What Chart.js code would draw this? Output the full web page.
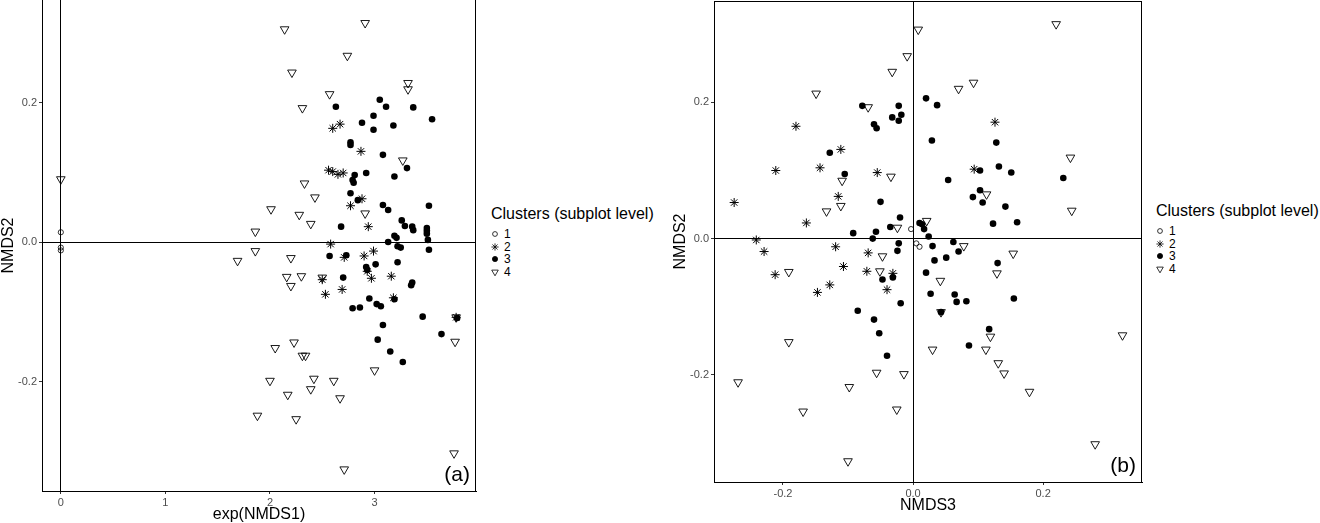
<!DOCTYPE html>
<html>
<head>
<meta charset="utf-8">
<title>NMDS clusters</title>
<script src="https://cdn.jsdelivr.net/npm/chart.js@4.4.1/dist/chart.umd.min.js"></script>
<style>
    body { margin: 0; background: #fff; width: 1320px; height: 523px; position: relative; overflow: hidden;
           font-family: "Liberation Sans", Arial, sans-serif; }
    canvas.panel { position: absolute; top: 0; }
    .legend { position: absolute; color: #000; }
    .legend .title { font-size: 16px; line-height: 18px; white-space: nowrap; }
    .legend .item { position: absolute; left: 0; height: 12px; font-size: 12px; line-height: 12px; white-space: nowrap; }
    .legend .item canvas { position: absolute; left: -2px; top: 0; }
    .legend .item span { position: absolute; left: 13px; top: 0; }
</style>
</head>
<body>
<canvas id="panelA" class="panel" width="480" height="523" style="left:0px"></canvas>
<canvas id="panelB" class="panel" width="486" height="523" style="left:660px"></canvas>
<div id="legendA" class="legend" style="left:491px; top:205px"></div>
<div id="legendB" class="legend" style="left:1156px; top:202px"></div>

<script>
// 범례 / 축 텍스트
const clusterLabels = ['1', '2', '3', '4'];
const legendTitle = 'Clusters (subplot level)';

// (a) exp(NMDS1) vs NMDS2 : [x, y]
const aCluster1 = [[0, 0.014], [0, -0.008], [0, -0.012]];
const aCluster2 = [
    [2.60, 0.163], [2.67, 0.169], [2.87, 0.130], [2.56, 0.103], [2.60, 0.101], [2.65, 0.097], [2.70, 0.099],
    [2.88, 0.062], [2.77, 0.052], [2.94, 0.022], [2.58, -0.003], [2.99, -0.013], [2.71, -0.022], [2.90, -0.020],
    [2.93, -0.042], [2.97, -0.052], [3.16, -0.049], [2.50, -0.054], [2.53, -0.075], [2.69, -0.068], [3.18, -0.080],
    [3.78, -0.108],
];
const aCluster3 = [
    [3.05, 0.204], [2.63, 0.194], [3.11, 0.194], [3.37, 0.193], [3.55, 0.176], [2.99, 0.181], [2.88, 0.171],
    [3.18, 0.167], [2.99, 0.161], [2.77, 0.143], [2.77, 0.139], [3.08, 0.125], [3.31, 0.106], [3.19, 0.094],
    [2.92, 0.099], [2.81, 0.096], [2.79, 0.089], [2.80, 0.085], [2.77, 0.070], [2.84, 0.060], [3.08, 0.053],
    [3.13, 0.046], [3.52, 0.052], [2.68, 0.022], [3.26, 0.031], [3.29, 0.023], [3.36, 0.022], [3.37, 0.017],
    [3.50, 0.020], [3.50, 0.016], [3.50, 0.012], [3.19, 0.009], [3.21, 0.006], [3.51, 0.003], [3.13, 0.000],
    [3.22, -0.006], [3.25, -0.008], [3.52, -0.011], [2.57, -0.020], [2.73, -0.019], [3.01, -0.032], [3.22, -0.029],
    [2.92, -0.036], [2.93, -0.040], [2.70, -0.051], [3.36, -0.058], [3.35, -0.062], [2.95, -0.081], [3.02, -0.089],
    [3.06, -0.092], [3.19, -0.082], [2.79, -0.095], [2.86, -0.094], [3.46, -0.107], [3.79, -0.109], [3.64, -0.132],
    [3.08, -0.119], [3.03, -0.140], [3.15, -0.157], [3.27, -0.172],
];
const aCluster4 = [
    [0, 0.090], [2.14, 0.305], [2.91, 0.314], [2.74, 0.267], [2.21, 0.243], [3.32, 0.228], [3.32, 0.219],
    [2.57, 0.212], [2.31, 0.192], [3.27, 0.117], [2.33, 0.084], [2.43, 0.064], [2.01, 0.047], [2.28, 0.039],
    [2.91, 0.041], [2.39, 0.026], [1.86, 0.015], [1.86, -0.013], [1.69, -0.027], [2.20, -0.023], [2.16, -0.050],
    [2.30, -0.049], [2.20, -0.063], [2.50, -0.051], [3.77, -0.143], [3.00, -0.184], [2.05, -0.152], [2.23, -0.144],
    [2.31, -0.163], [2.34, -0.163], [2.00, -0.199], [2.42, -0.196], [2.61, -0.199], [2.39, -0.211], [2.17, -0.219],
    [2.67, -0.224], [1.88, -0.249], [2.25, -0.254], [3.76, -0.303], [2.71, -0.326], [3.78, -0.108],
];
const aXTicks = [0, 1, 2, 3];
const aYTicks = [-0.2, 0, 0.2];

// (b) NMDS3 vs NMDS2 : [x, y]
const bCluster1 = [[-0.003, 0.014], [0.005, -0.007], [0.010, -0.012]];
const bCluster2 = [
    [-0.180, 0.165], [-0.111, 0.131], [-0.211, 0.100], [-0.143, 0.104], [-0.055, 0.097], [-0.115, 0.062],
    [-0.275, 0.053], [-0.164, 0.023], [-0.241, -0.002], [0.126, 0.171], [0.094, 0.102], [-0.229, -0.019],
    [-0.119, -0.012], [-0.069, -0.021], [-0.107, -0.041], [-0.212, -0.053], [-0.071, -0.048], [-0.031, -0.051],
    [-0.128, -0.068], [-0.147, -0.079], [-0.040, -0.075],
];
const bCluster3 = [
    [0.020, 0.206], [0.037, 0.196], [-0.078, 0.195], [-0.022, 0.195], [-0.018, 0.182], [-0.032, 0.178],
    [-0.022, 0.173], [-0.060, 0.168], [-0.056, 0.162], [0.029, 0.144], [0.128, 0.141], [-0.128, 0.126],
    [0.132, 0.106], [0.103, 0.100], [0.151, 0.097], [0.231, 0.089], [-0.105, 0.095], [0.054, 0.086],
    [0.103, 0.071], [0.092, 0.061], [0.107, 0.053], [0.142, 0.047], [-0.050, 0.054], [-0.020, 0.031],
    [0.123, 0.022], [0.160, 0.024], [0.010, 0.023], [0.014, 0.021], [0.017, 0.014], [-0.092, 0.008],
    [-0.057, 0.010], [-0.035, 0.017], [-0.062, 0.000], [0.024, 0.003], [-0.022, -0.007], [0.062, -0.005],
    [-0.024, -0.018], [0.030, -0.011], [0.070, -0.019], [0.051, -0.028], [0.033, -0.032], [0.130, -0.036],
    [0.020, -0.050], [-0.047, -0.060], [-0.031, -0.057], [0.027, -0.081], [0.064, -0.082], [0.067, -0.093],
    [0.082, -0.092], [0.155, -0.088], [-0.019, -0.095], [-0.085, -0.106], [0.043, -0.108], [-0.060, -0.119],
    [-0.052, -0.139], [0.117, -0.133], [0.086, -0.157], [-0.040, -0.172],
];
const bCluster4 = [
    [0.008, 0.307], [-0.009, 0.268], [-0.032, 0.245], [-0.149, 0.213], [-0.069, 0.193], [0.070, 0.220],
    [0.093, 0.229], [0.220, 0.315], [0.242, 0.119], [-0.034, 0.091], [-0.109, 0.085], [0.113, 0.065],
    [-0.111, 0.048], [0.244, 0.041], [-0.133, 0.040], [0.021, 0.026], [-0.024, 0.016], [0.078, -0.011],
    [0.154, -0.022], [-0.047, -0.026], [-0.191, -0.049], [-0.051, -0.048], [0.129, -0.051], [0.042, -0.062],
    [-0.191, -0.152], [0.119, -0.144], [0.322, -0.142], [0.030, -0.163], [0.112, -0.163], [0.131, -0.183],
    [0.140, -0.198], [-0.056, -0.197], [-0.014, -0.199], [-0.269, -0.211], [-0.098, -0.218], [0.179, -0.225],
    [-0.025, -0.251], [-0.169, -0.254], [0.280, -0.302], [-0.100, -0.327], [0.043, -0.108],
];
const bXTicks = [-0.2, 0, 0.2];
const bYTicks = [-0.2, 0, 0.2];

// 클러스터별 마커 모양
const markerStyles = [
    { pointStyle: 'circle', radius: 2.6, fill: 'rgba(0,0,0,0)', border: 0.8, rotation: 0 },
    { pointStyle: 'star', radius: 4.5, fill: 'rgba(0,0,0,0)', border: 1, rotation: 0 },
    { pointStyle: 'circle', radius: 3.3, fill: '#000', border: 0, rotation: 0 },
    { pointStyle: 'triangle', radius: 5, fill: 'rgba(0,0,0,0)', border: 0.9, rotation: 180 },
];

Chart.defaults.font.family = '"Liberation Sans", Arial, sans-serif';

// 오른쪽/위쪽 테두리와 패널 라벨
const framePlugin = {
    id: 'frame',
    afterDatasetsDraw(chart, args, opts) {
        const { ctx, chartArea: a } = chart;
        const r = Math.round(a.right) - 0.5;
        ctx.save();
        ctx.strokeStyle = '#000';
        ctx.lineWidth = 1;
        ctx.beginPath();
        ctx.moveTo(r, a.bottom);
        ctx.lineTo(r, a.top);
        if (opts.top) {
            ctx.moveTo(a.left, a.top + 0.5);
            ctx.lineTo(r, a.top + 0.5);
        }
        ctx.stroke();
        ctx.font = '21px "Liberation Sans", Arial, sans-serif';
        ctx.fillStyle = '#000';
        ctx.textAlign = 'right';
        ctx.textBaseline = 'alphabetic';
        ctx.fillText(opts.tag, a.right - 6, a.bottom - 10);
        ctx.restore();
    },
};

function toPoints(pairs) {
    return pairs.map(([x, y]) => ({ x, y }));
}

function axis(cfg) {
    return {
        type: 'linear',
        min: cfg.min,
        max: cfg.max,
        afterBuildTicks: (scale) => { scale.ticks = cfg.ticks.map((v) => ({ value: v })); },
        afterFit: (scale) => {
            if (cfg.width !== undefined) scale.width = cfg.width;
            if (cfg.height !== undefined) scale.height = cfg.height;
            // 끝 라벨 때문에 생기는 여백 제거
            scale.paddingTop = 0;
            scale.paddingBottom = 0;
            scale.paddingLeft = 0;
            scale.paddingRight = 0;
        },
        ticks: {
            color: '#4d4d4d',
            font: { size: 11 },
            padding: 2,
            callback: cfg.format,
        },
        grid: {
            color: (c) => (c.tick && c.tick.value === 0 ? '#000' : 'rgba(0,0,0,0)'),
            lineWidth: 1,
            tickLength: 3,
            tickColor: '#333',
        },
        border: { display: true, color: '#000', width: 1 },
        title: {
            display: true,
            text: cfg.title,
            color: '#000',
            font: { size: 16 },
            padding: cfg.titlePadding,
        },
    };
}

function makePanel(canvasId, clusters, cfg) {
    const datasets = clusters.map((pairs, i) => {
        const m = markerStyles[i];
        return {
            label: clusterLabels[i],
            data: toPoints(pairs),
            pointStyle: m.pointStyle,
            pointRadius: m.radius,
            pointBackgroundColor: m.fill,
            pointBorderColor: '#000',
            pointBorderWidth: m.border,
            pointRotation: m.rotation,
            showLine: false,
        };
    });

    return new Chart(document.getElementById(canvasId), {
        type: 'scatter',
        data: { datasets },
        options: {
            responsive: false,
            animation: false,
            devicePixelRatio: 1,
            events: [],
            layout: { autoPadding: false, padding: cfg.padding },
            plugins: {
                legend: { display: false },
                tooltip: { enabled: false },
                frame: { top: cfg.frameTop, tag: cfg.tag },
            },
            scales: { x: axis(cfg.x), y: axis(cfg.y) },
        },
        plugins: [framePlugin],
    });
}

const fmt1 = (v) => Number(v).toFixed(1);
const fmt0 = (v) => String(Math.round(v));

makePanel('panelA', [aCluster1, aCluster2, aCluster3, aCluster4], {
    padding: { left: 0, right: 4, top: 0, bottom: 0 },
    frameTop: false,
    tag: '(a)',
    x: { min: -0.18, max: 3.97, ticks: aXTicks, format: fmt0, title: 'exp(NMDS1)', height: 32, titlePadding: { top: 0, bottom: -1 } },
    y: { min: -0.357, max: 0.347, ticks: aYTicks, format: fmt1, title: 'NMDS2', width: 42, titlePadding: { top: -1, bottom: 0 } },
});

makePanel('panelB', [bCluster1, bCluster2, bCluster3, bCluster4], {
    padding: { left: 0, right: 4, top: 1, bottom: 0 },
    frameTop: true,
    tag: '(b)',
    x: { min: -0.306, max: 0.352, ticks: bXTicks, format: fmt1, title: 'NMDS3', height: 41, titlePadding: { top: 0, bottom: 8 } },
    y: { min: -0.3575, max: 0.349, ticks: bYTicks, format: fmt1, title: 'NMDS2', width: 54, titlePadding: { top: 11, bottom: 0 } },
});

// 범례 (HTML 텍스트 + 작은 캔버스 기호)
const legendMarkers = [
    { pointStyle: 'circle', radius: 2.4, fill: 'rgba(0,0,0,0)', rotation: 0 },
    { pointStyle: 'star', radius: 3.6, fill: 'rgba(0,0,0,0)', rotation: 0 },
    { pointStyle: 'circle', radius: 2.6, fill: '#000', rotation: 0 },
    { pointStyle: 'triangle', radius: 3.8, fill: 'rgba(0,0,0,0)', rotation: 180 },
];

function buildLegend(containerId) {
    const box = document.getElementById(containerId);
    const title = document.createElement('div');
    title.className = 'title';
    title.textContent = legendTitle;
    box.appendChild(title);

    clusterLabels.forEach((label, i) => {
        const item = document.createElement('div');
        item.className = 'item';
        item.style.top = (23 + i * 12.5) + 'px';
        const c = document.createElement('canvas');
        c.width = 12;
        c.height = 12;
        const ctx = c.getContext('2d');
        const m = legendMarkers[i];
        ctx.strokeStyle = '#000';
        ctx.fillStyle = m.fill;
        ctx.lineWidth = 0.8;
        if (Chart.helpers && Chart.helpers.drawPoint) {
            Chart.helpers.drawPoint(ctx, { pointStyle: m.pointStyle, radius: m.radius, rotation: m.rotation, borderWidth: 0.8 }, 6, 6);
        }
        item.appendChild(c);
        const span = document.createElement('span');
        span.textContent = label;
        item.appendChild(span);
        box.appendChild(item);
    });
}

buildLegend('legendA');
buildLegend('legendB');
</script>
</body>
</html>
